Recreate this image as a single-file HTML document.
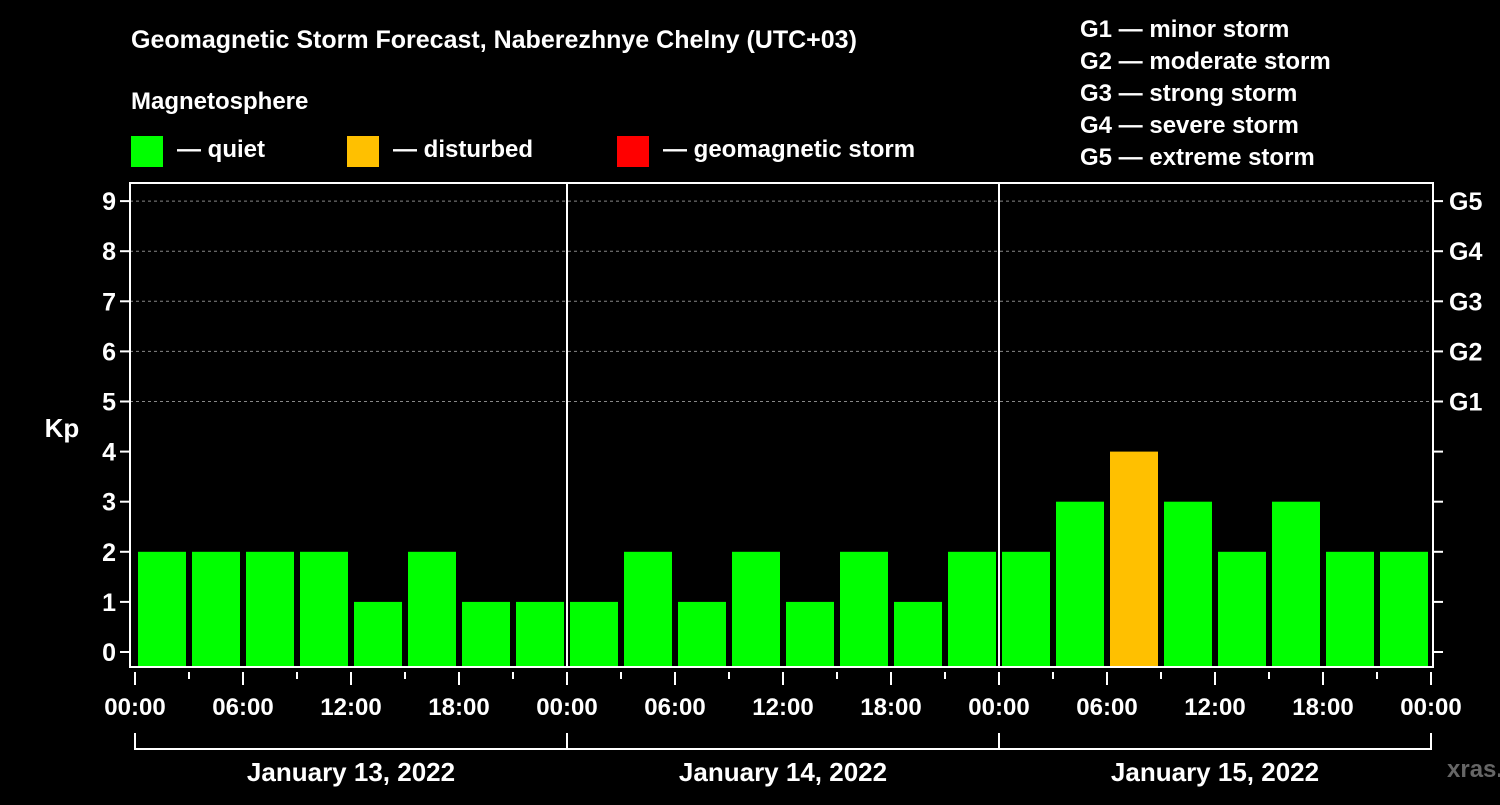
<!DOCTYPE html>
<html><head><meta charset="utf-8"><style>
body{margin:0;background:#000;width:1500px;height:800px;overflow:hidden}
svg text{font-family:"Liberation Sans",Arial,sans-serif;font-weight:bold;fill:#fff}
</style></head><body>
<svg id="chart" width="1500" height="800">
<text x="131" y="48" font-size="25">Geomagnetic Storm Forecast, Naberezhnye Chelny (UTC+03)</text>
<text x="131" y="109" font-size="24">Magnetosphere</text>
<rect x="131" y="136" width="32" height="31" fill="#00ff00"/>
<text x="177" y="157" font-size="24">— quiet</text>
<rect x="347" y="136" width="32" height="31" fill="#ffc000"/>
<text x="393" y="157" font-size="24">— disturbed</text>
<rect x="617" y="136" width="32" height="31" fill="#ff0000"/>
<text x="663" y="157" font-size="24">— geomagnetic storm</text>
<g font-size="24">
<text x="1080" y="37">G1 — minor storm</text>
<text x="1080" y="69">G2 — moderate storm</text>
<text x="1080" y="101">G3 — strong storm</text>
<text x="1080" y="133">G4 — severe storm</text>
<text x="1080" y="165">G5 — extreme storm</text>
</g>
<text x="62" y="437" font-size="26" text-anchor="middle">Kp</text>
<text x="1447" y="777" font-size="24" fill="#666" style="fill:#666">xras.ru</text>
<g id="plot"></g>
</svg>
<script>
const days = ["January 13, 2022","January 14, 2022","January 15, 2022"];
const kpValues = [2,2,2,2,1,2,1,1, 1,2,1,2,1,2,1,2, 2,3,4,3,2,3,2,2];
const yTicks = [0,1,2,3,4,5,6,7,8,9];
const gLabels = ["G1","G2","G3","G4","G5"];
const hourLabels = ["00:00","06:00","12:00","18:00"];

const NS="http://www.w3.org/2000/svg";
const g=document.getElementById('plot');
const X0=135, dayW=432, slotW=dayW/8;
const L=130, R=1433, T=183, B=667;
const y=v=>652-v*50.1;
const x=slot=>X0+slot*slotW;
function mk(tag,attrs){const e=document.createElementNS(NS,tag);for(const k in attrs)e.setAttribute(k,attrs[k]);g.appendChild(e);return e;}

// grid
for(let v=5;v<=9;v++){
  const l=mk('line',{x1:L,x2:R,y1:y(v),y2:y(v),stroke:'#888','stroke-dasharray':'3,3','stroke-width':1});
  
  
}
// bars
kpValues.forEach((v,i)=>{
  const col=v>=5?'#ff0000':(v>=4?'#ffc000':'#00ff00');
  const r=mk('rect',{x:x(i)+3,y:y(v),width:slotW-6,height:B-y(v),fill:col});
  
  
});
// day separators
for(let d=1;d<days.length;d++){
  const l=mk('line',{x1:x(d*8),x2:x(d*8),y1:T,y2:B,stroke:'#fff','stroke-width':2});
  
  
}
// frame
const fr=mk('rect',{x:L,y:T,width:R-L,height:B-T,fill:'none',stroke:'#fff','stroke-width':2});


// y ticks
yTicks.forEach(v=>{
  mk('line',{x1:L-10,x2:L,y1:y(v),y2:y(v),stroke:'#fff','stroke-width':2});
  mk('line',{x1:R,x2:R+10,y1:y(v),y2:y(v),stroke:'#fff','stroke-width':2});
  const t=mk('text',{x:L-14,y:y(v)+9,'text-anchor':'end','font-size':25});
  t.textContent=v;
  
  
});
gLabels.forEach((s,i)=>{
  const t=mk('text',{x:R+16,y:y(5+i)+9,'font-size':25});
  t.textContent=s;
  
  
});
// x ticks
for(let s=0;s<=days.length*8;s++){
  const major=s%2===0;
  mk('line',{x1:x(s),x2:x(s),y1:B+5,y2:B+(major?18:12),stroke:'#fff','stroke-width':2});
  if(major){
    const t=mk('text',{x:x(s),y:715,'text-anchor':'middle','font-size':24});
    t.textContent=hourLabels[(s/2)%4];
    
    
  }
}
// day brackets
days.forEach((d,i)=>{
  mk('line',{x1:x(i*8),x2:x(i*8),y1:733,y2:750,stroke:'#fff','stroke-width':2});
  mk('line',{x1:x(i*8),x2:x(i*8+8),y1:749,y2:749,stroke:'#fff','stroke-width':2});
  const t=mk('text',{x:x(i*8+4),y:781,'text-anchor':'middle','font-size':26});
  t.textContent=d;
  
  
});
mk('line',{x1:x(24),x2:x(24),y1:733,y2:750,stroke:'#fff','stroke-width':2});
</script>
</body></html>
